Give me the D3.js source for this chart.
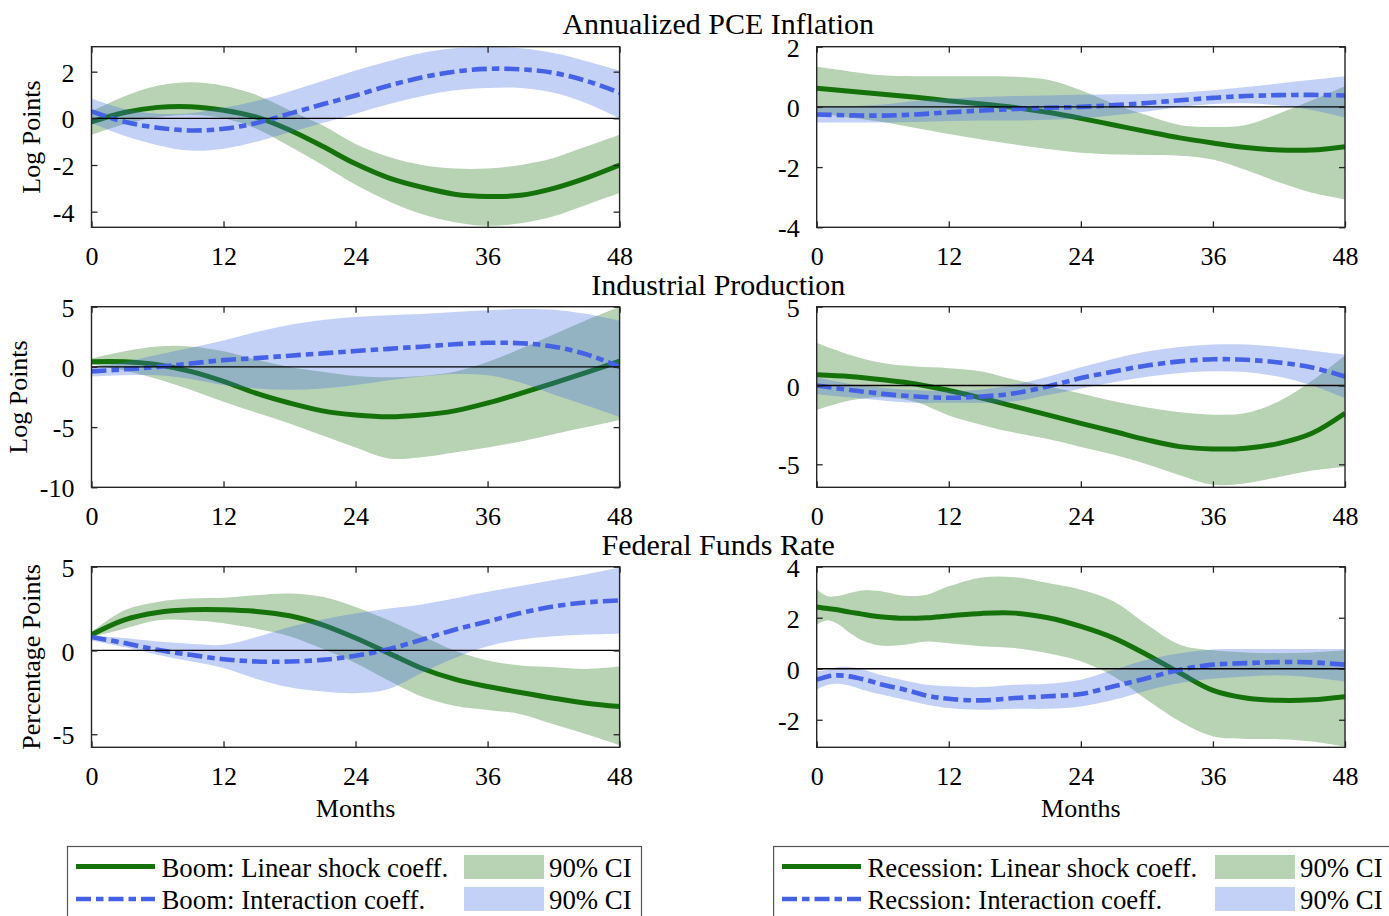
<!DOCTYPE html>
<html>
<head>
<meta charset="utf-8">
<script src="https://cdn.jsdelivr.net/npm/d3@7"></script>
<style>
  body { margin: 0; background: #fff; }
  text { font-family: "Liberation Serif", "Times New Roman", serif; fill: #000; }
</style>
</head>
<body>
<svg id="chart" width="1389" height="916"></svg>
<script>
// Horizon grids (months after the shock)
const months = [0, 3, 6, 9, 12, 15, 18, 21, 24, 27, 30, 33, 36, 39, 42, 45, 48];
const monthsFine = [0, 1, 2, 3, 4, 5, 6, 8, 10, 12, 15, 18, 21, 24, 27, 30, 33, 36, 39, 42, 45, 48];
const xTicks = [0, 12, 24, 36, 48];

// Annualized PCE inflation, boom state
const pceBoomLin   = [-0.15, 0.25, 0.47, 0.5, 0.35, 0.05, -0.5, -1.2, -1.95, -2.55, -2.95, -3.25, -3.35, -3.3, -3.0, -2.55, -2.0];
const pceBoomLinLo = [-0.7, -0.25, 0.05, 0.15, 0.0, -0.45, -1.2, -2.0, -2.85, -3.55, -4.1, -4.45, -4.6, -4.5, -4.2, -3.7, -3.2];
const pceBoomLinHi = [0.3, 0.95, 1.4, 1.55, 1.4, 1.0, 0.35, -0.3, -1.1, -1.65, -2.0, -2.15, -2.15, -2.0, -1.7, -1.2, -0.7];
const pceBoomInt   = [0.3, -0.15, -0.4, -0.52, -0.45, -0.2, 0.2, 0.6, 0.98, 1.4, 1.75, 2.0, 2.12, 2.1, 1.95, 1.6, 1.1];
const pceBoomIntLo = [-0.2, -0.75, -1.15, -1.38, -1.3, -1.0, -0.6, -0.2, 0.2, 0.6, 0.95, 1.2, 1.3, 1.3, 1.1, 0.65, 0.0];
const pceBoomIntHi = [0.85, 0.4, 0.2, 0.22, 0.45, 0.75, 1.15, 1.6, 2.05, 2.45, 2.8, 3.0, 3.05, 3.0, 2.8, 2.45, 2.05];

// Annualized PCE inflation, recession state
const pceRecLin   = [0.62, 0.52, 0.42, 0.32, 0.2, 0.1, -0.02, -0.18, -0.38, -0.6, -0.82, -1.03, -1.2, -1.35, -1.43, -1.43, -1.32];
const pceRecLinLo = [-0.2, -0.35, -0.5, -0.7, -0.9, -1.08, -1.25, -1.4, -1.52, -1.58, -1.6, -1.62, -1.75, -2.1, -2.5, -2.85, -3.07];
const pceRecLinHi = [1.33, 1.18, 1.05, 1.02, 1.02, 1.02, 1.0, 0.9, 0.55, 0.1, -0.28, -0.6, -0.67, -0.6, -0.22, 0.22, 0.69];
const pceRecInt   = [-0.25, -0.28, -0.29, -0.25, -0.18, -0.12, -0.07, -0.03, 0.0, 0.06, 0.13, 0.22, 0.3, 0.36, 0.39, 0.4, 0.38];
const pceRecIntLo = [-0.52, -0.52, -0.52, -0.5, -0.47, -0.45, -0.45, -0.43, -0.38, -0.28, -0.15, 0.0, 0.1, 0.12, 0.05, -0.1, -0.35];
const pceRecIntHi = [0.0, 0.02, 0.08, 0.2, 0.28, 0.33, 0.36, 0.38, 0.4, 0.42, 0.43, 0.47, 0.55, 0.66, 0.78, 0.9, 1.02];

// Industrial production, boom state
const ipBoomLin   = [0.42, 0.42, 0.18, -0.37, -1.2, -2.2, -3.0, -3.65, -4.0, -4.15, -4.0, -3.65, -3.0, -2.2, -1.35, -0.45, 0.48];
const ipBoomLinLo = [0.2, -0.3, -1.0, -1.9, -2.9, -3.8, -4.7, -5.7, -6.7, -7.6, -7.5, -7.1, -6.7, -6.2, -5.6, -5.0, -4.4];
const ipBoomLinHi = [0.7, 1.3, 1.7, 1.7, 1.3, 0.6, 0.0, -0.4, -0.75, -0.85, -0.75, -0.4, 0.4, 1.5, 2.7, 3.9, 5.0];
const ipBoomInt   = [-0.37, -0.2, 0.0, 0.28, 0.56, 0.73, 0.93, 1.12, 1.32, 1.5, 1.68, 1.88, 2.0, 1.97, 1.68, 1.04, 0.0];
const ipBoomIntLo = [-0.8, -0.7, -0.7, -1.0, -1.5, -1.8, -1.9, -1.8, -1.5, -1.1, -0.8, -0.6, -0.7, -1.3, -2.3, -3.2, -4.15];
const ipBoomIntHi = [0.0, 0.4, 1.0, 1.6, 2.2, 2.9, 3.5, 3.9, 4.15, 4.3, 4.4, 4.55, 4.7, 4.8, 4.75, 4.4, 3.85];

// Industrial production, recession state
const ipRecLin   = [0.68, 0.57, 0.36, 0.1, -0.32, -0.8, -1.33, -1.86, -2.4, -2.92, -3.45, -3.88, -4.03, -3.98, -3.67, -3.03, -1.76];
const ipRecLinLo = [-1.55, -0.95, -0.75, -1.05, -1.9, -2.5, -3.0, -3.4, -3.9, -4.4, -5.0, -5.7, -6.3, -6.2, -5.8, -5.4, -5.15];
const ipRecLinHi = [2.7, 1.95, 1.42, 1.2, 1.1, 0.89, 0.36, -0.05, -0.5, -1.0, -1.4, -1.7, -1.85, -1.75, -1.0, 0.3, 1.9];
const ipRecInt   = [0.0, -0.28, -0.53, -0.7, -0.78, -0.7, -0.49, -0.06, 0.47, 0.89, 1.27, 1.53, 1.67, 1.63, 1.46, 1.14, 0.57];
const ipRecIntLo = [-0.55, -0.75, -0.95, -1.1, -1.1, -1.1, -1.0, -0.6, -0.2, 0.2, 0.55, 0.8, 0.9, 0.85, 0.55, 0.0, -0.8];
const ipRecIntHi = [0.5, 0.1, -0.15, -0.3, -0.35, -0.25, 0.05, 0.55, 1.15, 1.7, 2.15, 2.45, 2.6, 2.6, 2.45, 2.2, 1.95];

// Federal funds rate, boom state
const ffrBoomLin   = [0.94, 1.83, 2.27, 2.43, 2.43, 2.33, 2.07, 1.53, 0.74, -0.16, -1.06, -1.71, -2.15, -2.51, -2.85, -3.15, -3.35];
const ffrBoomLinLo = [0.8, 1.3, 1.8, 1.8, 1.63, 1.3, 0.85, 0.1, -0.75, -1.8, -2.75, -3.3, -3.55, -3.8, -4.4, -5.0, -5.65];
const ffrBoomLinHi = [1.1, 2.4, 2.9, 3.1, 3.15, 3.3, 3.4, 3.2, 2.6, 1.8, 0.9, 0.0, -0.6, -0.9, -1.0, -1.1, -0.96];
const ffrBoomInt   = [0.8, 0.44, 0.04, -0.26, -0.52, -0.66, -0.66, -0.56, -0.32, 0.08, 0.64, 1.24, 1.73, 2.23, 2.63, 2.87, 2.99];
const ffrBoomIntLo = [0.6, 0.2, -0.25, -0.65, -1.05, -1.7, -2.2, -2.45, -2.55, -2.3, -1.35, -0.45, 0.25, 0.65, 0.85, 0.95, 1.0];
const ffrBoomIntHi = [0.9, 0.74, 0.54, 0.4, 0.34, 0.8, 1.4, 1.85, 2.2, 2.5, 2.75, 3.1, 3.5, 3.85, 4.2, 4.55, 4.95];

// Federal funds rate, recession state (finer grid)
const ffrRecLin   = [2.42, 2.36, 2.3, 2.22, 2.15, 2.08, 2.03, 1.98, 2.0, 2.07, 2.17, 2.18, 2.0, 1.66, 1.2, 0.55, -0.17, -0.85, -1.15, -1.24, -1.22, -1.1];
const ffrRecLinLo = [1.73, 1.9, 1.73, 1.4, 1.14, 0.98, 0.9, 0.94, 1.07, 1.0, 0.88, 0.81, 0.61, 0.29, -0.3, -1.22, -2.07, -2.65, -2.75, -2.76, -2.85, -3.05];
const ffrRecLinHi = [3.12, 2.84, 2.86, 2.97, 3.06, 3.07, 3.03, 2.86, 2.9, 3.23, 3.58, 3.59, 3.36, 3.1, 2.64, 1.73, 0.94, 0.72, 0.64, 0.61, 0.64, 0.72];
const ffrRecInt   = [-0.43, -0.3, -0.26, -0.3, -0.39, -0.5, -0.63, -0.82, -1.05, -1.18, -1.24, -1.15, -1.08, -0.99, -0.69, -0.37, -0.04, 0.16, 0.22, 0.26, 0.25, 0.16];
const ffrRecIntLo = [-0.82, -0.63, -0.59, -0.67, -0.8, -0.92, -1.02, -1.22, -1.41, -1.54, -1.61, -1.57, -1.57, -1.48, -1.22, -0.85, -0.56, -0.39, -0.3, -0.26, -0.34, -0.5];
const ffrRecIntHi = [-0.1, -0.04, 0.07, 0.07, -0.01, -0.14, -0.27, -0.46, -0.63, -0.69, -0.72, -0.63, -0.59, -0.43, -0.04, 0.35, 0.61, 0.75, 0.77, 0.77, 0.77, 0.77];

// Row titles, axis labels, y ticks
const rowTitles = ["Annualized PCE Inflation", "Industrial Production", "Federal Funds Rate"];
const rowYLabels = ["Log Points", "Log Points", "Percentage Points"];
const yTicksPceBoom = [-4, -2, 0, 2];
const yTicksPceRec = [-4, -2, 0, 2];
const yTicksIpBoom = [-10, -5, 0, 5];
const yTicksIpRec = [-5, 0, 5];
const yTicksFfrBoom = [-5, 0, 5];
const yTicksFfrRec = [-2, 0, 2, 4];
const legendBoom = ["Boom: Linear shock coeff.", "Boom: Interaction coeff."];
const legendRec = ["Recession: Linear shock coeff.", "Recssion: Interaction coeff."];
const ciLabel = "90% CI";

// ---- styling / layout ----
const GREEN = "#15720a";
const GREEN_FILL = "#b8d3b4";
const BLUE = "#4561e6";
const BLUE_FILL = "#4169e1";
const BLUE_ALPHA = 0.31;
const AXIS = "#262626";
const DASH = "15,5,7.5,5";
const FS = 26;
const FS_LEGEND = 26.8;
const FS_TITLE = 30;

const colX = [[91.5, 619.6], [816.7, 1345]];
const rowY = [[46.7, 227.3], [306.7, 487.3], [566.7, 747.3]];
const yLabelX = [40, 27, 40];

const panels = [
  { row: 0, col: 0, x: months, dom: [-4.67, 3.07], ticks: yTicksPceBoom,
    lin: pceBoomLin, linLo: pceBoomLinLo, linHi: pceBoomLinHi, int: pceBoomInt, intLo: pceBoomIntLo, intHi: pceBoomIntHi },
  { row: 0, col: 1, x: months, dom: [-4, 2], ticks: yTicksPceRec,
    lin: pceRecLin, linLo: pceRecLinLo, linHi: pceRecLinHi, int: pceRecInt, intLo: pceRecIntLo, intHi: pceRecIntHi },
  { row: 1, col: 0, x: months, dom: [-10, 5], ticks: yTicksIpBoom,
    lin: ipBoomLin, linLo: ipBoomLinLo, linHi: ipBoomLinHi, int: ipBoomInt, intLo: ipBoomIntLo, intHi: ipBoomIntHi },
  { row: 1, col: 1, x: months, dom: [-6.46, 5], ticks: yTicksIpRec,
    lin: ipRecLin, linLo: ipRecLinLo, linHi: ipRecLinHi, int: ipRecInt, intLo: ipRecIntLo, intHi: ipRecIntHi },
  { row: 2, col: 0, x: months, dom: [-5.78, 5], ticks: yTicksFfrBoom,
    lin: ffrBoomLin, linLo: ffrBoomLinLo, linHi: ffrBoomLinHi, int: ffrBoomInt, intLo: ffrBoomIntLo, intHi: ffrBoomIntHi },
  { row: 2, col: 1, x: monthsFine, dom: [-3.08, 4], ticks: yTicksFfrRec,
    lin: ffrRecLin, linLo: ffrRecLinLo, linHi: ffrRecLinHi, int: ffrRecInt, intLo: ffrRecIntLo, intHi: ffrRecIntHi }
];

const svg = d3.select("#chart");
const defs = svg.append("defs");
const curve = d3.curveCatmullRom.alpha(0.5);

// row titles centred over the figure
const titleBase = [34, 295, 555];
rowTitles.forEach((t, r) => {
  svg.append("text").attr("x", (colX[0][0] + colX[1][1]) / 2).attr("y", titleBase[r])
    .attr("text-anchor", "middle").attr("font-size", FS_TITLE).text(t);
});

panels.forEach((p, i) => {
  const [x0, x1] = colX[p.col];
  const [y0, y1] = rowY[p.row];
  const x = d3.scaleLinear().domain([0, 48]).range([x0, x1]);
  const y = d3.scaleLinear().domain(p.dom).range([y1, y0]);
  const rows = p.x.map((m, k) => ({ m, lin: p.lin[k], linLo: p.linLo[k], linHi: p.linHi[k],
                                    int: p.int[k], intLo: p.intLo[k], intHi: p.intHi[k] }));

  const clipId = "clip" + i;
  defs.append("clipPath").attr("id", clipId)
    .append("rect").attr("x", x0).attr("y", y0).attr("width", x1 - x0).attr("height", y1 - y0);

  const g = svg.append("g");
  const plot = g.append("g").attr("clip-path", `url(#${clipId})`);

  const band = (lo, hi) => d3.area().curve(curve).x(d => x(d.m)).y0(d => y(d[lo])).y1(d => y(d[hi]));
  const line = key => d3.line().curve(curve).x(d => x(d.m)).y(d => y(d[key]));

  plot.append("path").datum(rows).attr("d", band("linLo", "linHi")).attr("fill", GREEN_FILL);
  plot.append("path").datum(rows).attr("d", line("lin"))
    .attr("fill", "none").attr("stroke", GREEN).attr("stroke-width", 5);
  plot.append("path").datum(rows).attr("d", band("intLo", "intHi"))
    .attr("fill", BLUE_FILL).attr("fill-opacity", BLUE_ALPHA);
  plot.append("path").datum(rows).attr("d", line("int"))
    .attr("fill", "none").attr("stroke", BLUE).attr("stroke-width", 4.6)
    .attr("stroke-dasharray", DASH);

  // zero reference line
  plot.append("line").attr("x1", x0).attr("x2", x1).attr("y1", y(0)).attr("y2", y(0))
    .attr("stroke", "#000").attr("stroke-width", 1.3);

  // axes: ticks point inward on all four sides
  const axB = g.append("g").attr("transform", `translate(0,${y1})`)
    .call(d3.axisBottom(x).tickValues(xTicks).tickSizeInner(-6).tickSizeOuter(0));
  const axT = g.append("g").attr("transform", `translate(0,${y0})`)
    .call(d3.axisTop(x).tickValues(xTicks).tickSizeInner(-6).tickSizeOuter(0).tickFormat(""));
  const axL = g.append("g").attr("transform", `translate(${x0},0)`)
    .call(d3.axisLeft(y).tickValues(p.ticks).tickSizeInner(-6).tickSizeOuter(0).tickPadding(17)
      .tickFormat(d => String(d)));
  const axR = g.append("g").attr("transform", `translate(${x1},0)`)
    .call(d3.axisRight(y).tickValues(p.ticks).tickSizeInner(-6).tickSizeOuter(0).tickFormat(""));
  [axB, axT, axL, axR].forEach(a => {
    a.select(".domain").remove();
    a.selectAll(".tick line").attr("stroke", AXIS).attr("stroke-width", 1.3);
    a.selectAll("text").attr("font-size", FS).attr("font-family", "Liberation Serif, serif").attr("fill", "#000");
  });
  axB.selectAll("text").attr("dy", null).attr("y", 37.5);
  axL.selectAll("text").attr("dy", "0.37em");

  g.append("rect").attr("x", x0).attr("y", y0).attr("width", x1 - x0).attr("height", y1 - y0)
    .attr("fill", "none").attr("stroke", AXIS).attr("stroke-width", 1.4);

  if (p.col === 0) {
    g.append("text")
      .attr("transform", `translate(${yLabelX[p.row]},${(y0 + y1) / 2}) rotate(-90)`)
      .attr("text-anchor", "middle").attr("font-size", FS).text(rowYLabels[p.row]);
  }
  if (p.row === 2) {
    g.append("text").attr("x", (x0 + x1) / 2).attr("y", 817)
      .attr("text-anchor", "middle").attr("font-size", FS).text("Months");
  }
});

// legends
function legend(bx, bw, lineX, textX, patchX, ciX, labels) {
  const g = svg.append("g");
  g.append("rect").attr("x", bx).attr("y", 846.5).attr("width", bw).attr("height", 120)
    .attr("fill", "#fff").attr("stroke", "#555").attr("stroke-width", 1.2);
  g.append("line").attr("x1", lineX).attr("x2", lineX + 79).attr("y1", 866.5).attr("y2", 866.5)
    .attr("stroke", GREEN).attr("stroke-width", 5);
  g.append("line").attr("x1", lineX).attr("x2", lineX + 79).attr("y1", 899).attr("y2", 899)
    .attr("stroke", BLUE).attr("stroke-width", 4.6).attr("stroke-dasharray", DASH);
  g.append("text").attr("x", textX).attr("y", 877).attr("font-size", FS_LEGEND).text(labels[0]);
  g.append("text").attr("x", textX).attr("y", 909).attr("font-size", FS_LEGEND).text(labels[1]);
  g.append("rect").attr("x", patchX).attr("y", 855).attr("width", 80).attr("height", 24).attr("fill", GREEN_FILL);
  g.append("rect").attr("x", patchX).attr("y", 887).attr("width", 80).attr("height", 24)
    .attr("fill", BLUE_FILL).attr("fill-opacity", BLUE_ALPHA);
  g.append("text").attr("x", ciX).attr("y", 877).attr("font-size", FS_LEGEND).text(ciLabel);
  g.append("text").attr("x", ciX).attr("y", 909).attr("font-size", FS_LEGEND).text(ciLabel);
}
legend(67.5, 574, 76, 161.5, 464, 549, legendBoom);
legend(773.6, 700, 782, 867.4, 1215, 1300, legendRec);
</script>
</body>
</html>
